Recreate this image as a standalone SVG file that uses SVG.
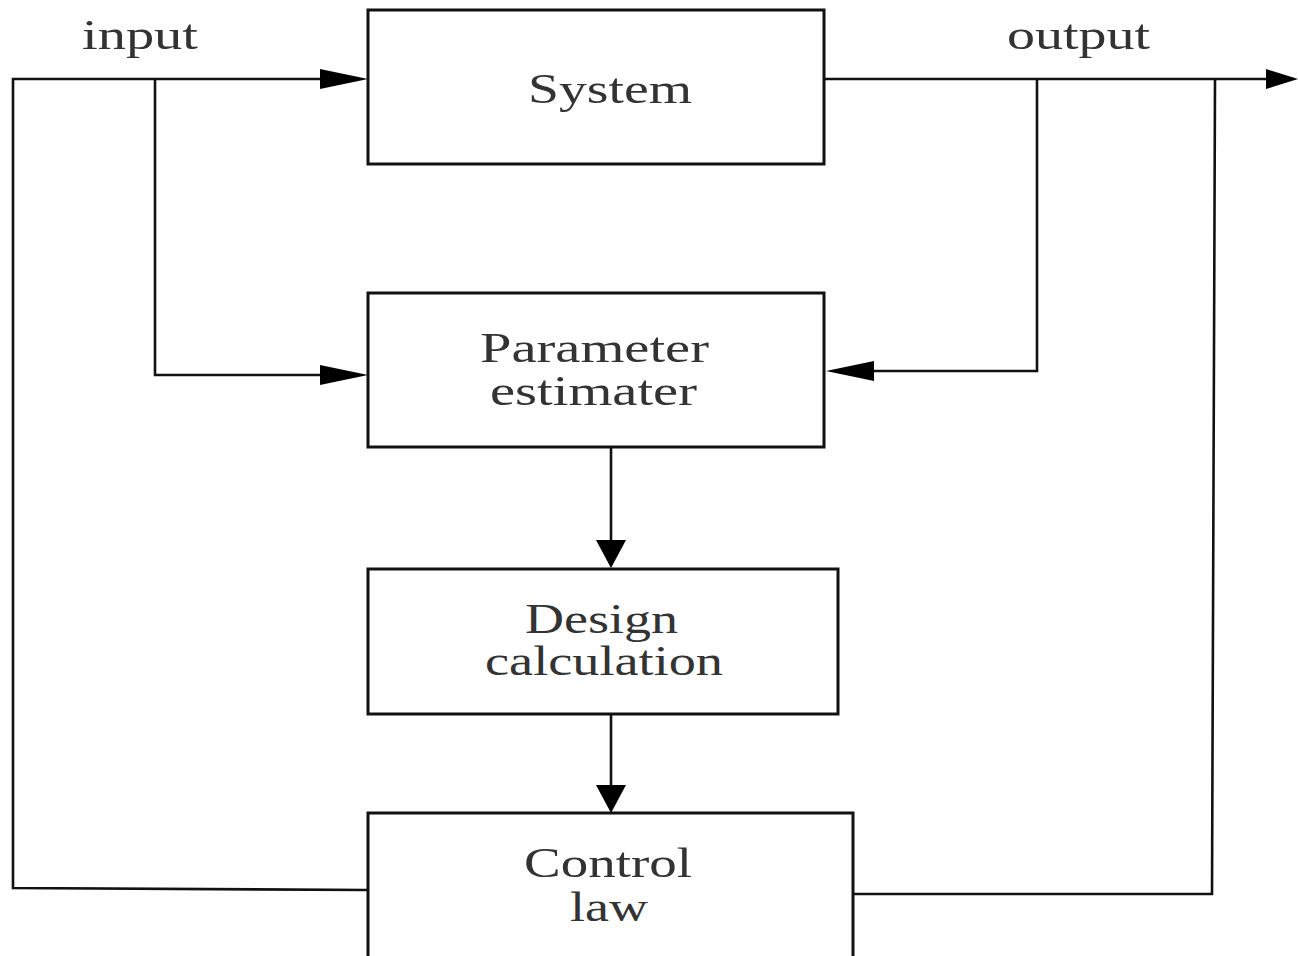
<svg xmlns="http://www.w3.org/2000/svg" width="1298" height="956" viewBox="0 0 1298 956">
<style>
.box{fill:#fff;stroke:#111;stroke-width:3}
.t{font-family:"Liberation Serif","Times New Roman",serif;font-size:42px;fill:#333}
.ln{fill:none;stroke:#111;stroke-width:2.6}
.ah{fill:#000;stroke:none}
</style>
<rect width="1298" height="956" fill="#fff"/>
<g id="connectors">
<path class="ln" d="M368,890 L13,888 L13,79 L322,79"/>
<polygon class="ah" points="320,69 368,79 320,89"/>
<path class="ln" d="M155,79 L155,375 L322,375"/>
<polygon class="ah" points="320,365 368,375 320,385"/>
<path class="ln" d="M824,79 L1268,79"/>
<polygon class="ah" points="1266,69 1298,79 1266,89"/>
<path class="ln" d="M1037,79 L1037,371 L872,371"/>
<polygon class="ah" points="874,361 826,371 874,381"/>
<path class="ln" d="M853,894 L1212,894 L1215,79"/>
<path class="ln" d="M611,447 L611,542"/>
<polygon class="ah" points="596,540 611,568 626,540"/>
<path class="ln" d="M611,714 L611,787"/>
<polygon class="ah" points="596,785 611,813 626,785"/>
</g>
<g id="label-input"><text class="t" x="82" y="49" textLength="116" lengthAdjust="spacingAndGlyphs">input</text></g>
<g id="label-output"><text class="t" x="1007" y="49" textLength="143" lengthAdjust="spacingAndGlyphs">output</text></g>
<g id="system">
<rect class="box" x="368" y="10" width="456" height="154"/>
<text class="t" x="528" y="103" textLength="164" lengthAdjust="spacingAndGlyphs">System</text>
</g>
<g id="parameter-estimater">
<rect class="box" x="368" y="293" width="456" height="154"/>
<text class="t" x="480" y="362" textLength="229" lengthAdjust="spacingAndGlyphs">Parameter</text>
<text class="t" x="490" y="405" textLength="207" lengthAdjust="spacingAndGlyphs">estimater</text>
</g>
<g id="design-calculation">
<rect class="box" x="368" y="569" width="470" height="145"/>
<text class="t" x="525" y="633" textLength="153" lengthAdjust="spacingAndGlyphs">Design</text>
<text class="t" x="485" y="675" textLength="238" lengthAdjust="spacingAndGlyphs">calculation</text>
</g>
<g id="control-law">
<rect class="box" x="368" y="813" width="485" height="160"/>
<text class="t" x="524" y="877" textLength="168" lengthAdjust="spacingAndGlyphs">Control</text>
<text class="t" x="570" y="921" textLength="78" lengthAdjust="spacingAndGlyphs">law</text>
</g>
</svg>
